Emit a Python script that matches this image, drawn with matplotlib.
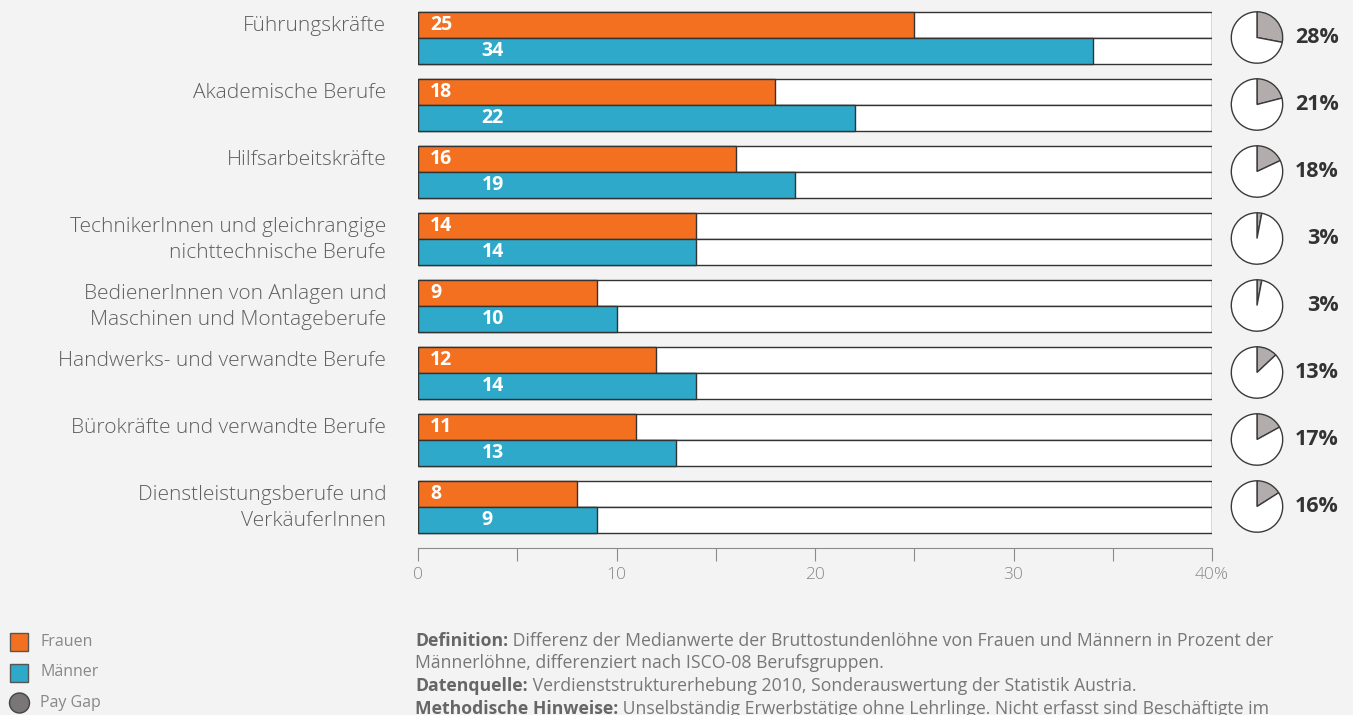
import matplotlib.pyplot as plt
from matplotlib.patches import Rectangle, Ellipse
import numpy as np

# data
categories = [
    "Führungskräfte",
    "Akademische Berufe",
    "Hilfsarbeitskräfte",
    "TechnikerInnen und gleichrangige\nnichttechnische Berufe",
    "BedienerInnen von Anlagen und\nMaschinen und Montageberufe",
    "Handwerks- und verwandte Berufe",
    "Bürokräfte und verwandte Berufe",
    "Dienstleistungsberufe und\nVerkäuferInnen",
]
frauen = [25, 18, 16, 14, 9, 12, 11, 8]
maenner = [34, 22, 19, 14, 10, 14, 13, 9]
pay_gap = [28, 21, 18, 3, 3, 13, 17, 16]
x_ticks = [0, 10, 20, 30, 40]
x_tick_labels = ["0", "10", "20", "30", "40%"]

ORANGE = '#F37021'
BLUE = '#2EA9CA'
PIE_GRAY = '#B2ACAC'
BG = '#F3F3F3'
TXT = '#5E5E5E'

plt.rcParams['font.family'] = ['Open Sans', 'DejaVu Sans']

W, H = 1353, 715
fig = plt.figure(figsize=(W / 100, H / 100), dpi=100)
fig.patch.set_facecolor(BG)

# main bar axes: x 418..1212 px, y 0..548 px
pitch = 67.0
ax = fig.add_axes([418 / W, 1 - 548 / H, 794 / W, 548 / H])
ax.set_facecolor(BG)
ax.set_xlim(0, 40)
ax.set_ylim((548 - 25) / pitch, -25 / pitch)

bh = 26 / pitch
y = np.arange(len(categories))
ax.barh(y, [40] * len(y), height=bh, color='white', edgecolor='#333333', linewidth=1)
ax.barh(y + bh, [40] * len(y), height=bh, color='white', edgecolor='#333333', linewidth=1)
ax.barh(y, frauen, height=bh, color=ORANGE, edgecolor='#333333', linewidth=1)
ax.barh(y + bh, maenner, height=bh, color=BLUE, edgecolor='#333333', linewidth=1)

for i in range(len(categories)):
    ax.text(0.6, y[i], str(frauen[i]), color='white', fontsize=14, fontweight='bold',
            va='center', ha='left')
    ax.text(3.2, y[i] + bh, str(maenner[i]), color='white', fontsize=14, fontweight='bold',
            va='center', ha='left')
    lines = categories[i].split("\n")
    for k, line in enumerate(lines):
        ax.text(-1.6, y[i] + k * bh + 0.02, line, color=TXT, fontsize=15,
                fontweight='light', va='center', ha='right', clip_on=False)

for s in ['top', 'right', 'left']:
    ax.spines[s].set_visible(False)
ax.spines['bottom'].set_color('#8A8A8A')
ax.set_yticks([])
ax.set_xticks(np.arange(0, 41, 5))
ax.set_xticklabels([x_tick_labels[x_ticks.index(v)] if v in x_ticks else "" for v in range(0, 41, 5)])
ax.tick_params(axis='x', direction='out', length=9, color='#8A8A8A', labelcolor='#888888',
               labelsize=12.5, pad=5)
for lbl in ax.get_xticklabels():
    lbl.set_fontweight('light')

# pies
r = 26.5
for i in range(len(categories)):
    cy = 37.5 + pitch * i
    pax = fig.add_axes([(1257 - r) / W, 1 - (cy + r) / H, 2 * r / W, 2 * r / H])
    pax.pie([pay_gap[i], 100 - pay_gap[i]], colors=[PIE_GRAY, 'white'], startangle=90,
            counterclock=False, radius=0.97,
            wedgeprops=dict(edgecolor='#3A3A3A', linewidth=1))
    pax.set_xlim(-1, 1)
    pax.set_ylim(-1, 1)
    pax.set_aspect('equal')
    fig.text(1339 / W, 1 - cy / H, f"{pay_gap[i]}%", fontsize=15.5, fontweight='bold',
             color='#333333', ha='right', va='center')

# legend
leg_items = [("Frauen", ORANGE, 's'), ("Männer", BLUE, 's'), ("Pay Gap", '#7A7576', 'o')]
for k, (lab, col, mk) in enumerate(leg_items):
    yy = 642 + 30.5 * k
    if mk == 's':
        p = Rectangle((10 / W, 1 - (yy + 9) / H), 18 / W, 18 / H, transform=fig.transFigure,
                      facecolor=col, edgecolor='#555555', linewidth=1)
    else:
        p = Ellipse((19.5 / W, 1 - yy / H), 20 / W, 20 / H, transform=fig.transFigure,
                    facecolor=col, edgecolor='#444444', linewidth=1)
    fig.patches.append(p)
    fig.text(40 / W, 1 - yy / H, lab, fontsize=11.5, color='#888888', va='center')

# notes
notes = [
    ("Definition:", " Differenz der Medianwerte der Bruttostundenlöhne von Frauen und Männern in Prozent der"),
    ("", "Männerlöhne, differenziert nach ISCO-08 Berufsgruppen."),
    ("Datenquelle:", " Verdienststrukturerhebung 2010, Sonderauswertung der Statistik Austria."),
    ("Methodische Hinweise:", " Unselbständig Erwerbstätige ohne Lehrlinge. Nicht erfasst sind Beschäftigte im"),
]
fig.canvas.draw()
renderer = fig.canvas.get_renderer()
for k, (b, t) in enumerate(notes):
    yy = 1 - (641 + 22.5 * k) / H
    x0 = 415 / W
    if b:
        bt = fig.text(x0, yy, b, fontsize=12.7, fontweight='bold', color='#666666', va='center')
        ext = bt.get_window_extent(renderer)
        x0 = ext.x1 / W
    fig.text(x0, yy, t, fontsize=12.7, color='#777777', va='center')

fig.savefig('out.png', dpi=100, facecolor=BG)
